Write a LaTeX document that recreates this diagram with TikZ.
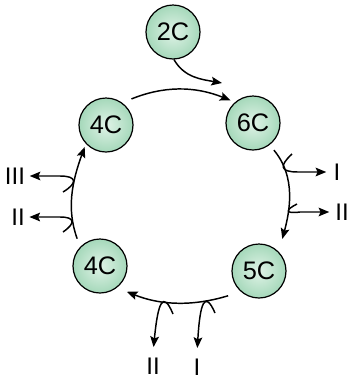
\documentclass[tikz,border=0pt]{standalone}
\usepackage{fontspec}
\setmainfont{Liberation Sans}
\usetikzlibrary{arrows.meta}
\definecolor{mintin}{RGB}{224,243,231}
\definecolor{mintout}{RGB}{165,216,186}
\begin{document}
\begin{tikzpicture}[>={Stealth[length=8pt,width=6.5pt,inset=1.5pt]}, x=0.75pt, y=0.75pt, line width=1.1pt,
  carbon/.style={circle, draw, line width=0.9pt, minimum size=40.5pt, inner sep=0pt,
    inner color=mintin, outer color=mintout, font=\fontsize{19}{22}\selectfont},
  numlab/.style={inner sep=3pt, font=\fontsize{18}{21}\selectfont}]
\useasboundingbox (0,0) rectangle (348,-383);
\node[carbon] (c2) at (173,-32) {2C};
\node[carbon] (c4a) at (106,-125) {4C};
\node[carbon] (c6) at (253,-123) {6C};
\node[carbon] (c5) at (259,-271) {5C};
\node[carbon] (c4b) at (100,-266) {4C};
\node[numlab] (r1) at (337,-172) {I};
\node[numlab] (r2) at (342,-212) {II};
\node[numlab] (l3) at (15,-176) {III};
\node[numlab] (l2) at (18,-217) {II};
\node[numlab] (b2) at (153,-366) {II};
\node[numlab] (b1) at (197,-367) {I};

\coordinate (t6) at (222,-83);
\draw[->] (c2.-88) to[out=-60,in=170] (t6);
\draw[->, shorten <=7.5pt, shorten >=3.5pt] (c4a.54) to[out=22,in=158] (c6.131);
\draw[->, shorten <=5pt, shorten >=10pt] (c6.-53) to[out=-50,in=75] (c5.44);
\draw[->, shorten <=10pt, shorten >=8pt] (c5.229) to[out=-163,in=-22] (c4b.-52);
\draw[->, shorten <=6.5pt, shorten >=2.5pt] (c4b.136) to[out=110,in=-110] (c4a.223);

\coordinate (h1) at (292,-154);
\coordinate (h2) at (297,-204);
\coordinate (h3) at (63,-192);
\coordinate (h4) at (63,-232);
\coordinate (h5) at (173,-314);
\coordinate (h6) at (215,-313);
\draw[->, shorten >=2pt] (h1) .. controls (279,-166) and (280,-172) .. (298,-172) -- (r1.west);
\draw[->, shorten >=1pt] (h2) .. controls (285,-210) and (285,-214) .. (300,-212) -- (r2.west);
\draw[->] (h3) .. controls (78,-183) and (77,-176) .. (60,-176) -- (l3.east);
\draw[->] (h4) .. controls (76,-223) and (75,-217) .. (60,-217) -- (l2.east);
\draw[->, shorten >=4.5pt] (h5) .. controls (163,-290) and (158,-302) .. (b2.north);
\draw[->, shorten >=4.5pt] (h6) .. controls (205,-290) and (200,-302) .. (b1.north);
\end{tikzpicture}
\end{document}
